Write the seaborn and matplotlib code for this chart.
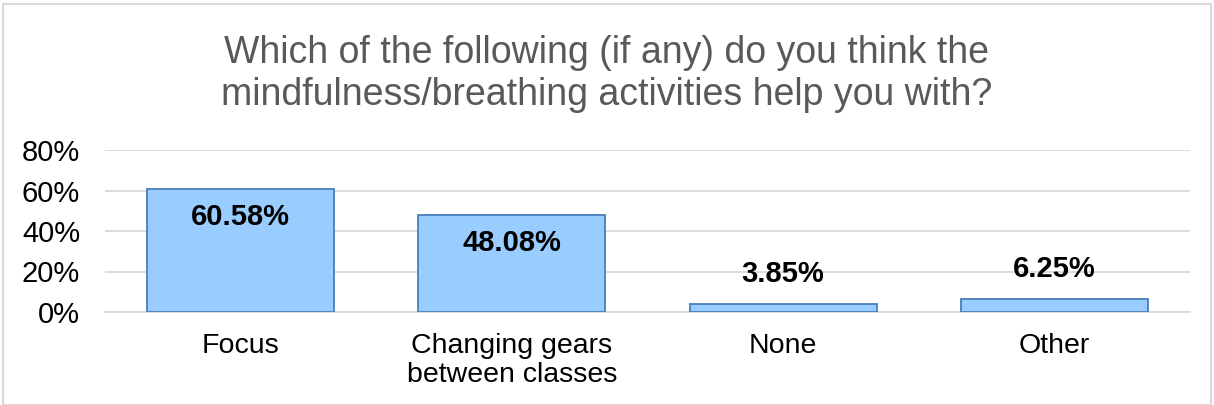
import matplotlib
matplotlib.use("Agg")
import matplotlib.pyplot as plt
import seaborn as sns
import pandas as pd
from matplotlib.patches import Rectangle

categories = ["Focus", "Changing gears\nbetween classes", "None", "Other"]
values = [60.58, 48.08, 3.85, 6.25]
yticks = [0, 20, 40, 60, 80]
title = "Which of the following (if any) do you think the\nmindfulness/breathing activities help you with?"

sns.set_theme(style="white")
plt.rcParams["font.family"] = ["Liberation Sans", "DejaVu Sans"]

df = pd.DataFrame({"cat": categories, "val": values})

fig = plt.figure(figsize=(12.14, 4.05), dpi=100)
ax = fig.add_axes([105 / 1214, 1 - 312 / 405, (1190 - 105) / 1214, (312 - 150) / 405])

sns.barplot(data=df, x="cat", y="val", color="#99CCFF", edgecolor="#4A7EBB",
            linewidth=1.3, width=0.69, saturation=1, ax=ax, zorder=3)

ax.set_ylim(0, 80)
ax.set_yticks(yticks)
ax.set_yticklabels([f"{t}%" for t in yticks], fontsize=21, color="#000000")
ax.tick_params(axis="x", labelsize=20.5, colors="#000000", pad=15, length=0)
ax.tick_params(axis="y", length=0, pad=18)
for lbl in ax.get_xticklabels():
    lbl.set_linespacing(1.15)
ax.set_xlabel("")
ax.set_ylabel("")
ax.yaxis.grid(True, color="#D9D9D9", linewidth=1.3, zorder=0)
ax.set_axisbelow(True)
for s in ax.spines.values():
    s.set_visible(False)
ax.spines["bottom"].set_visible(True)
ax.spines["bottom"].set_color("#D9D9D9")
ax.spines["bottom"].set_linewidth(1.3)

for i, v in enumerate(values):
    if v > 20:
        ax.annotate(f"{v:.2f}%", (i, v), xytext=(0, -10), textcoords="offset points",
                    ha="center", va="top", fontsize=21, fontweight="bold", color="#000000")
    else:
        ax.annotate(f"{v:.2f}%", (i, v), xytext=(0, 12), textcoords="offset points",
                    ha="center", va="bottom", fontsize=21, fontweight="bold", color="#000000")

fig.text(0.5, 1 - 74 / 405, title, ha="center", va="center", fontsize=27, color="#595959",
         linespacing=1.2)

fig.patches.append(Rectangle((3 / 1214, 0), 1 - 6 / 1214, 1 - 4 / 405, transform=fig.transFigure,
                             fill=False, edgecolor="#D9D9D9", linewidth=1.5))

fig.savefig("out.png", dpi=100)
